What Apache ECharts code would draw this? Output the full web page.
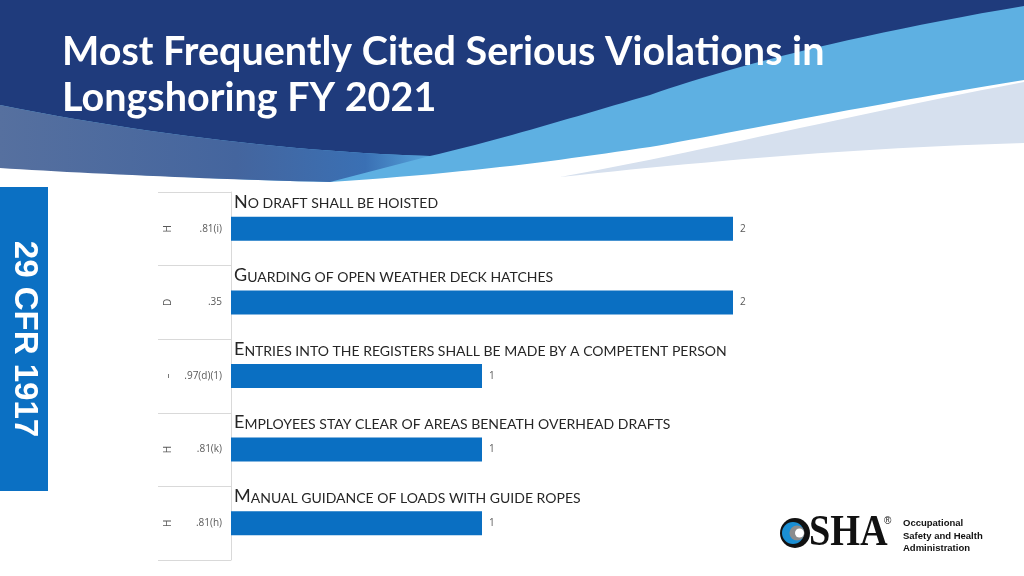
<!DOCTYPE html>
<html>
<head>
<meta charset="utf-8">
<script src="https://cdn.jsdelivr.net/npm/echarts@6/dist/echarts.min.js"></script>
<style>html,body{margin:0;padding:0;background:#fff;}#c{width:1024px;height:576px;}</style>
</head>
<body>
<div id="c"></div>
<script>
var codes = ['.81(i)', '.35', '.97(d)(1)', '.81(k)', '.81(h)'];
var sectionMarks = ['H', 'D', '\u2013', 'H', 'H'];
var descriptions = [
  'No draft shall be hoisted',
  'Guarding of open weather deck hatches',
  'Entries into the registers shall be made by a competent person',
  'Employees stay clear of areas beneath overhead drafts',
  'Manual guidance of loads with guide ropes'
];
var citations = [2, 2, 1, 1, 1];

// decorative header: sample simple path segments (M, L, C) into polygon points
function pathPts(segs) {
  var pts = [], cur = null;
  segs.forEach(function (s) {
    if (s[0] === 'M' || s[0] === 'L') { cur = [s[1], s[2]]; pts.push(cur); }
    else if (s[0] === 'C') {
      var p0 = cur, p1 = [s[1], s[2]], p2 = [s[3], s[4]], p3 = [s[5], s[6]];
      for (var i = 1; i <= 24; i++) {
        var t = i / 24, u = 1 - t;
        pts.push([
          u*u*u*p0[0] + 3*u*u*t*p1[0] + 3*u*t*t*p2[0] + t*t*t*p3[0],
          u*u*u*p0[1] + 3*u*u*t*p1[1] + 3*u*t*t*p2[1] + t*t*t*p3[1]
        ]);
      }
      cur = p3;
    }
  });
  return pts;
}

var chart = echarts.init(document.getElementById('c'));
var option = {
  animation: false,
  backgroundColor: '#ffffff',
  title: {
    text: 'Most Frequently Cited Serious Violations in\nLongshoring FY 2021',
    left: 57, top: 24,
    textStyle: { color: '#ffffff', fontFamily: 'Lato', fontWeight: 'bold', fontSize: 39.5, lineHeight: 46 }
  },
  graphic: [
    { type: 'polygon', z: -10, shape: { points: pathPts([['M',560,177],['C',700,152,850,115,1024,82],['L',1024,143],['C',850,148,700,162,560,177]]) }, style: { fill: '#d6e0ee' } },
    { type: 'polygon', z: -9, shape: { points: pathPts([['M',0,0],['L',1024,0],['L',1024,80],['C',850,108,720,135,650,147],['C',560,160,480,172,330,182],['C',200,179,80,172,0,166]]) }, style: { fill: '#5eb0e2' } },
    { type: 'polygon', z: -8, shape: { points: pathPts([['M',0,0],['L',1024,0],['L',1024,6],['C',850,35,720,70,650,95],['C',580,115,500,140,430,156],['C',300,152,150,135,0,105]]) }, style: { fill: '#1f3b7c' } },
    { type: 'polygon', z: -7, shape: { points: pathPts([['M',0,105],['C',150,135,300,152,430,156],['L',330,182],['C',200,179,80,173,0,168]]) },
      style: { fill: { type: 'linear', x: 0, y: 0, x2: 1, y2: 0, colorStops: [{ offset: 0, color: '#56709f' }, { offset: 0.55, color: '#44659e' }, { offset: 0.85, color: '#3a70b4' }, { offset: 1, color: '#56a4db' }] } } },
    { type: 'rect', z: -5, shape: { x: 0, y: 187, width: 48, height: 304 }, style: { fill: '#0b70c3' } },
    { type: 'text', x: 24, y: 339, rotation: -Math.PI / 2, style: { text: '29 CFR 1917', fill: '#ffffff', font: 'bold 33px "Liberation Sans"', textAlign: 'center', textVerticalAlign: 'middle' } },
    { type: 'circle', shape: { cx: 795, cy: 533, r: 15 }, style: { fill: '#111111' } },
    { type: 'circle', shape: { cx: 793, cy: 533, r: 11 }, style: { fill: '#1a8fd4' } },
    { type: 'circle', shape: { cx: 797, cy: 533, r: 7.5 }, style: { fill: '#8c8c8c' } },
    { type: 'circle', shape: { cx: 799.5, cy: 533, r: 4.5 }, style: { fill: '#ffffff' } },
    { type: 'text', x: 809, y: 534, scaleX: 0.87, style: { text: 'SHA', fill: '#111111', font: 'bold 44px "Liberation Serif"', textVerticalAlign: 'middle' } },
    { type: 'text', x: 884, y: 521, style: { text: '\u00ae', fill: '#111111', font: '10px "Liberation Sans"', textVerticalAlign: 'middle' } },
    { type: 'text', x: 903, y: 523, style: { text: 'Occupational', fill: '#111111', font: 'bold 9.5px "Liberation Sans"', textVerticalAlign: 'middle' } },
    { type: 'text', x: 903, y: 536, style: { text: 'Safety and Health', fill: '#111111', font: 'bold 9.5px "Liberation Sans"', textVerticalAlign: 'middle' } },
    { type: 'text', x: 903, y: 548, style: { text: 'Administration', fill: '#111111', font: 'bold 9.5px "Liberation Sans"', textVerticalAlign: 'middle' } }
  ],
  grid: { left: 231, right: 291, top: 192, bottom: 16 },
  xAxis: { type: 'value', min: 0, max: 2, show: false },
  yAxis: [
    {
      type: 'category', inverse: true, data: codes,
      axisLine: { show: true, lineStyle: { color: '#d9d9d9' } },
      axisTick: { show: true, length: 73, lineStyle: { color: '#d9d9d9' } },
      axisLabel: { color: '#595959', fontSize: 10, fontFamily: 'Open Sans', margin: 9 }
    },
    {
      type: 'category', inverse: true, data: sectionMarks, position: 'left',
      axisLine: { show: false }, axisTick: { show: false },
      axisLabel: { color: '#595959', fontSize: 10, fontFamily: 'Open Sans', margin: 58, rotate: 90 }
    }
  ],
  series: [
    {
      type: 'bar', yAxisIndex: 0, data: citations, barWidth: 24, silent: true,
      itemStyle: { color: '#0a6fc2' },
      label: { show: true, position: 'right', distance: 7, color: '#595959', fontSize: 10, fontFamily: 'Open Sans' }
    },
    {
      type: 'bar', yAxisIndex: 0, data: citations, barWidth: 24, barGap: '-100%', silent: true,
      itemStyle: { color: 'rgba(0,0,0,0)' },
      label: {
        show: true, position: [3, -15], align: 'left', verticalAlign: 'middle',
        formatter: function (p) {
          var d = descriptions[p.dataIndex];
          return '{b|' + d.charAt(0).toUpperCase() + '}{s|' + d.slice(1).toUpperCase() + '}';
        },
        rich: {
          b: { fontSize: 18, color: '#262626', fontFamily: 'Lato', verticalAlign: 'bottom' },
          s: { fontSize: 14, color: '#262626', fontFamily: 'Lato', verticalAlign: 'bottom' }
        }
      }
    }
  ]
};
chart.setOption(option);
</script>
</body>
</html>
